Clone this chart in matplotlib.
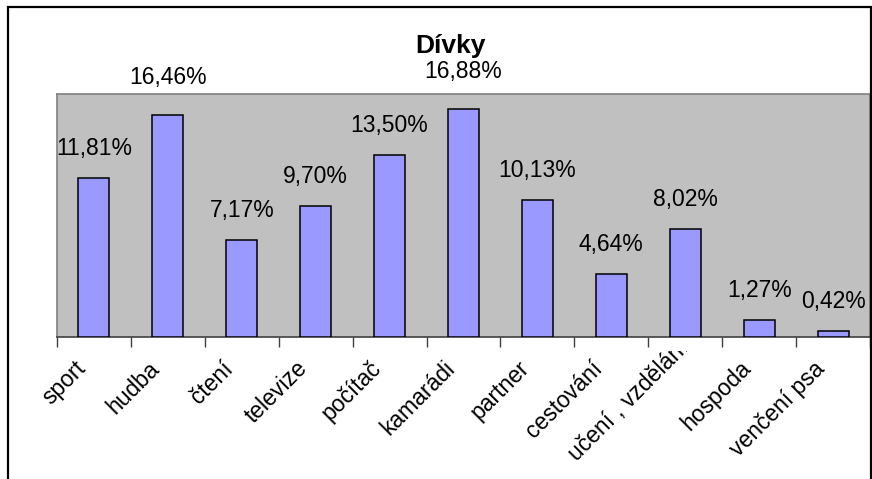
import numpy as np
import matplotlib
matplotlib.use('Agg')
import matplotlib.pyplot as plt
from matplotlib.patches import Rectangle
from matplotlib.transforms import Bbox, TransformedBbox

plt.rcParams['font.family'] = ['Liberation Sans', 'DejaVu Sans']

categories = ['sport', 'hudba', 'čtení', 'televize', 'počítač', 'kamarádi',
              'partner', 'cestování', 'učení , vzdělání', 'hospoda', 'venčení psa']
values = [11.81, 16.46, 7.17, 9.70, 13.50, 16.88, 10.13, 4.64, 8.02, 1.27, 0.42]
labels = ['11,81%', '16,46%', '7,17%', '9,70%', '13,50%', '16,88%',
          '10,13%', '4,64%', '8,02%', '1,27%', '0,42%']

W, H = 872, 479
fig = plt.figure(figsize=(W / 100, H / 100), dpi=100)
fig.patch.set_facecolor('white')

# outer chart border (bottom edge runs off the picture)
fig.patches.append(Rectangle((8 / W, -0.05), (871 - 8) / W, 1.05 - 7 / H,
                             transform=fig.transFigure, fill=False,
                             edgecolor='black', lw=1.6, clip_on=False))

ax = fig.add_axes([57 / W, (H - 337) / H, (870 - 57) / W, (337 - 94) / H])
ax.set_facecolor('#C0C0C0')
for s in ax.spines.values():
    s.set_color('#808080')
    s.set_linewidth(1.2)
ax.spines['bottom'].set_color('#404040')

x = np.arange(len(categories))
ax.bar(x, values, width=0.42, color='#9999FF', edgecolor='black', linewidth=1.1, zorder=3)
ax.set_xlim(-0.5, len(categories) - 0.5)
ax.set_ylim(0, 18)
ax.set_yticks([])

# ticks at category boundaries
ax.set_xticks(np.arange(len(categories) + 1) - 0.5)
ax.set_xticklabels([])
ax.tick_params(axis='x', length=7, width=1, color='#404040', direction='out')

# region below which category labels may be drawn (long label gets cut like in Excel)
label_clip = TransformedBbox(Bbox([[0, 0], [1, (H - 351) / H]]), fig.transFigure)

# category labels, rotated, ending just left of the category centre
for xi, cat in zip(x, categories):
    long_label = len(cat) > 12
    off = (0, -7) if long_label else (-12, -28)
    t = ax.annotate(cat, (xi, 0), xytext=off, textcoords='offset pixels',
                    rotation=45, rotation_mode='anchor', ha='right', va='center',
                    fontsize=16.5, annotation_clip=False)
    if long_label:
        t.set_clip_on(True)
        t.set_clip_box(label_clip)

for xi, v, lab in zip(x, values, labels):
    off = 26 if v > 15 else 18
    ax.annotate(lab, (xi, v), xytext=(0, off), textcoords='offset pixels',
                ha='center', va='bottom', fontsize=16.5, annotation_clip=False)

fig.text(450 / W, 1 - 46 / H, 'Dívky', ha='center', va='center',
         fontsize=19, fontweight='bold')

fig.savefig('out.png', dpi=100)
